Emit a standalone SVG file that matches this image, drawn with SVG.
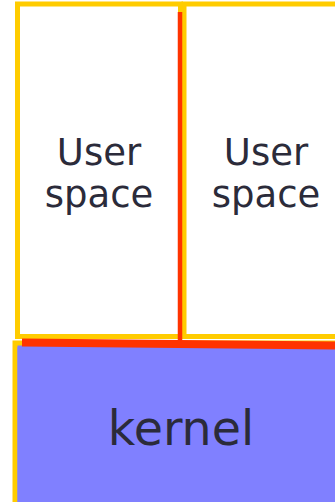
<svg xmlns="http://www.w3.org/2000/svg" width="335" height="502" viewBox="0 0 335 502">
  <style>
    .frame { fill: #ffffff; stroke: #ffcc00; stroke-width: 5; }
    .label { font-family: "DejaVu Sans", Verdana, sans-serif; fill: #2b2b3a; text-anchor: middle; }
    .sep { stroke: #ff3300; fill: none; }
  </style>

  <g id="user-space-1">
    <rect class="frame" x="17.5" y="4" width="163" height="332.5"/>
    <text class="label" font-size="37" x="99" y="165">User</text>
    <text class="label" font-size="37" x="99" y="207">space</text>
  </g>

  <g id="user-space-2">
    <rect class="frame" x="184" y="4" width="160" height="332.5"/>
    <text class="label" font-size="37" x="266" y="165">User</text>
    <text class="label" font-size="37" x="266" y="207">space</text>
  </g>

  <g id="kernel">
    <rect x="15" y="343" width="330" height="170" fill="#8080ff" stroke="#ffcc00" stroke-width="5"/>
    <rect x="17.5" y="347" width="330" height="160" fill="#8080ff"/>
    <text class="label" font-size="47.5" x="181" y="445">kernel</text>
  </g>

  <g id="connectors">
    <line class="sep" x1="180" y1="12" x2="180" y2="343" stroke-width="4.5"/>
    <line class="sep" x1="22" y1="342.5" x2="335" y2="345.5" stroke-width="8"/>
  </g>
</svg>
